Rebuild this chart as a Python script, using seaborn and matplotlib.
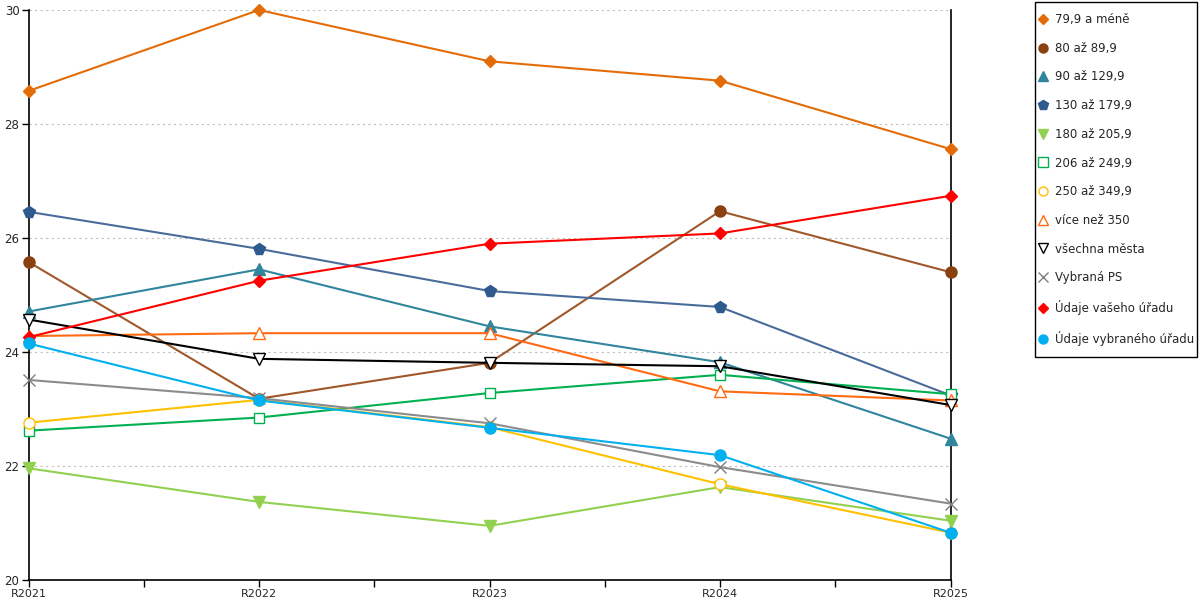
import pandas as pd
import numpy as np
import seaborn as sns
import matplotlib.pyplot as plt
from matplotlib.lines import Line2D
from matplotlib.patches import Rectangle
from matplotlib.ticker import MultipleLocator

# data

years = ['R2021', 'R2022', 'R2023', 'R2024', 'R2025']

labels = ['79,9 a méně', '80 až 89,9', '90 až 129,9', '130 až 179,9',
          '180 až 205,9', '206 až 249,9', '250 až 349,9', 'více než 350',
          'všechna města', 'Vybraná PS', 'Údaje vašeho úřadu',
          'Údaje vybraného úřadu']

v_79 = [28.58, 30.00, 29.10, 28.76, 27.56]
v_80 = [25.58, 23.18, 23.81, 26.47, 25.40]
v_90 = [24.71, 25.45, 24.45, 23.82, 22.48]
v_130 = [26.46, 25.81, 25.07, 24.79, 23.24]
v_180 = [21.96, 21.37, 20.95, 21.63, 21.04]
v_206 = [22.62, 22.85, 23.28, 23.60, 23.26]
v_250 = [22.76, 23.16, 22.68, 21.68, 20.83]
v_350 = [24.28, 24.33, 24.33, 23.31, 23.15]
v_all = [24.57, 23.88, 23.81, 23.75, 23.07]
v_ps = [23.51, 23.19, 22.75, 21.98, 21.34]
v_vas = [24.26, 25.25, 25.90, 26.08, 26.74]
v_vyb = [24.15, 23.15, 22.67, 22.19, 20.83]

values = [v_79, v_80, v_90, v_130, v_180, v_206, v_250, v_350,
          v_all, v_ps, v_vas, v_vyb]

colors = ['#E36C09', '#A0582A', '#31859C', '#4A6C9B', '#92D050', '#00B050',
          '#FFC000', '#FF6A13', '#000000', '#8C8C8C', '#FF0000', '#00B0F0']
marker_colors = ['#E36C09', '#8B4010', '#31859C', '#2F5A8E', '#92D050', '#00B050',
                 '#FFC000', '#FF6A13', '#000000', '#7F7F7F', '#FF0000', '#00B0F0']
markers = ['D', 'o', '^', 'p', 'v', 's', 'o', '^', 'v', 'x', 'D', 'o']
filled = [True, True, True, True, True, False, False, False, False, True, True, True]
msizes = [6.5, 8, 8, 8.5, 8, 7.5, 8, 8.5, 8.5, 8.5, 6.5, 8]
leg_sizes = [5.5, 6.5, 7, 7, 7, 7, 6.5, 7.5, 7.5, 7.5, 5.5, 6.5]

sns.set_style('white')
plt.rcParams['font.family'] = ['DejaVu Sans']

fig = plt.figure(figsize=(12, 6), dpi=100)
ax = fig.add_axes([28.5 / 1200, 20 / 600, 922 / 1200, 570 / 600])

for i in range(len(labels)):
    df = pd.DataFrame({'rok': years, 'hodnota': values[i]})
    sns.lineplot(data=df, x='rok', y='hodnota', ax=ax, color=colors[i],
                 linewidth=1.5, marker=markers[i], markersize=msizes[i],
                 markeredgecolor=marker_colors[i],
                 markerfacecolor=marker_colors[i] if filled[i] else 'white',
                 markeredgewidth=1.0, label=labels[i], legend=False,
                 clip_on=False, zorder=3)

ax.set_xlim(0, 4)
ax.set_ylim(20, 30)
ax.yaxis.set_major_locator(MultipleLocator(2))
ax.xaxis.set_minor_locator(MultipleLocator(0.5))
ax.set_xlabel('')
ax.set_ylabel('')
ax.grid(axis='y', color='#BFBFBF', linestyle=(0, (2, 3)), linewidth=0.8)
ax.set_axisbelow(True)

for s in ['left', 'bottom', 'right']:
    ax.spines[s].set_color('black')
    ax.spines[s].set_linewidth(1.2)
ax.spines['top'].set_visible(False)

ax.tick_params(axis='both', which='both', direction='out', length=5, width=1,
               color='black', labelsize=8, pad=1.5, bottom=True, left=True)
ax.tick_params(axis='y', right=False, labelsize=8.5)

# legend: markers only, box drawn separately
handles = []
for i in range(len(labels)):
    handles.append(Line2D([], [], linestyle='none', marker=markers[i],
                          markersize=leg_sizes[i],
                          markeredgecolor=marker_colors[i],
                          markerfacecolor=marker_colors[i] if filled[i] else 'white',
                          markeredgewidth=1.0))

leg = fig.legend(handles, labels, loc='upper left',
                 bbox_to_anchor=(1039 / 1200, 1 - 13 / 600),
                 frameon=False, fontsize=8.5,
                 labelspacing=1.33, handlelength=0.7, handletextpad=0.65,
                 borderpad=0, borderaxespad=0)

fig.patches.append(Rectangle((1035 / 1200, 1 - 357 / 600), 162 / 1200, 355 / 600,
                             transform=fig.transFigure, fill=False,
                             edgecolor='black', linewidth=1.0))

plt.savefig('out.png', dpi=100)
